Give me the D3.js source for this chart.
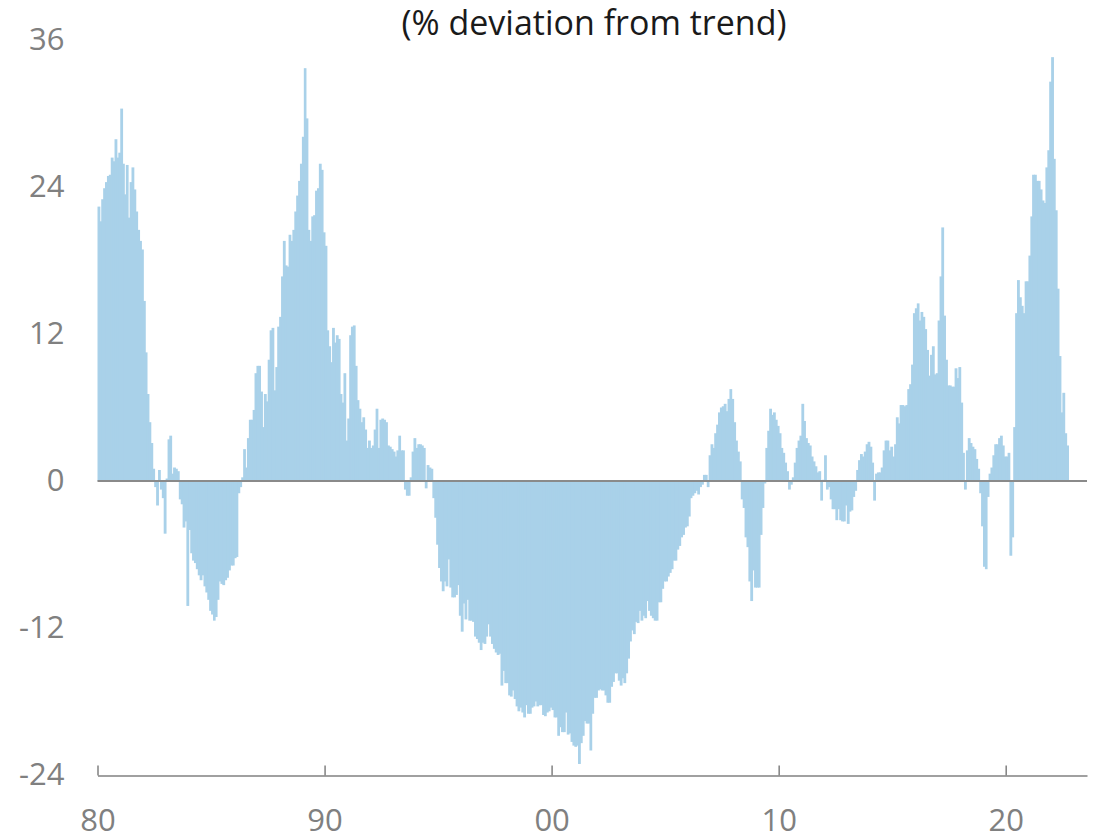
<!DOCTYPE html>
<meta charset="utf-8">
<style>
  body { margin: 0; background: #fff; }
  svg { display: block; font-family: "Open Sans", sans-serif; }
  .tick text { fill: #808080; font-size: 31px; font-family: "Open Sans", sans-serif; }
  .title { fill: #1a1a1a; font-size: 34px; }
</style>
<body>
<div id="chart"></div>
<script src="https://cdn.jsdelivr.net/npm/d3@7"></script>
<script>
  // monthly values, Jan 1980 .. Sep 2022 (% deviation from trend)
  const startYear = 1980;
  const values = [
    22.4, 21.2, 23.0, 23.9, 24.4, 24.9, 25.0, 26.4, 26.1, 27.9, 26.4, 26.8,       // 1980
    30.4, 25.9, 23.4, 25.8, 21.5, 24.4, 25.6, 23.8, 22.0, 20.5, 19.6, 18.9,       // 1981
    14.7, 10.5, 7.1, 4.8, 3.1, 1.0, -0.5, -2.0, 0.9, -0.7, -1.4, -4.3,            // 1982
    0.2, 3.4, 3.7, 0.6, 1.1, 1.0, 0.8, -1.5, -1.9, -3.8, -3.3, -10.2,             // 1983
    -4.0, -5.9, -6.5, -6.7, -7.2, -7.7, -8.1, -7.7, -8.6, -9.1, -9.7, -10.6,      // 1984
    -10.9, -11.4, -11.1, -9.7, -8.2, -8.4, -8.5, -8.1, -7.9, -7.3, -6.9, -6.9,    // 1985
    -6.3, -6.2, -1.0, -0.5, 0.3, 2.6, 1.1, 3.5, 5.0, 5.0, 5.8, 8.8,               // 1986
    9.4, 9.4, 7.3, 4.4, 7.1, 6.5, 9.9, 12.3, 12.5, 7.4, 9.3, 12.6,                // 1987
    13.4, 16.7, 19.6, 17.6, 17.5, 20.1, 19.6, 20.5, 22.0, 23.3, 24.5, 25.9,       // 1988
    28.1, 33.7, 29.6, 20.5, 19.6, 21.6, 21.7, 23.7, 23.9, 25.9, 25.4, 20.3,       // 1989
    19.2, 12.3, 11.0, 9.7, 12.5, 11.3, 11.9, 11.6, 7.1, 6.4, 8.8, 3.3,            // 1990
    5.1, 11.9, 12.6, 12.7, 9.4, 6.6, 5.9, 4.8, 5.2, 4.2, 2.7, 3.3,                // 1991
    2.7, 2.9, 4.2, 5.9, 2.7, 5.0, 5.1, 5.0, 4.8, 2.9, 2.8, 2.6,                   // 1992
    2.4, 2.0, 2.5, 3.7, 2.5, 2.5, -0.7, -1.2, -1.2, 0.3, 2.4, 3.5,                // 1993
    2.7, 3.0, 3.0, 2.9, 2.7, -0.6, 1.3, 1.1, 1.0, -1.4, -3.0, -5.2,               // 1994
    -7.1, -8.2, -9.0, -8.2, -8.6, -6.4, -8.7, -9.5, -9.5, -9.3, -8.5, -11.0,      // 1995
    -12.3, -10.0, -11.3, -9.7, -11.4, -11.4, -11.5, -12.7, -12.9, -13.2, -13.8, -13.2, // 1996
    -13.3, -12.7, -11.7, -12.7, -13.3, -13.7, -14.0, -14.2, -14.1, -16.7, -15.5, -16.5, // 1997
    -16.5, -17.5, -17.6, -17.1, -17.8, -18.4, -18.8, -18.5, -18.9, -19.3, -18.3, -19.0, // 1998
    -19.0, -18.5, -18.4, -18.0, -18.4, -18.3, -18.3, -19.1, -19.2, -18.9, -18.8, -18.5, // 1999
    -18.7, -19.3, -19.3, -20.8, -20.1, -20.5, -20.5, -18.9, -20.7, -20.6, -21.3, -21.6, // 2000
    -21.7, -21.6, -23.1, -21.4, -20.8, -19.6, -19.8, -19.8, -22.0, -19.0, -17.7, -17.7, // 2001
    -17.1, -17.0, -17.1, -17.1, -17.5, -18.1, -18.1, -16.8, -16.4, -15.7, -15.7, -16.3, // 2002
    -16.7, -16.1, -16.5, -15.7, -14.5, -13.1, -12.2, -12.5, -11.5, -11.6, -10.6, -11.4, // 2003
    -11.0, -11.2, -9.8, -10.6, -11.0, -11.2, -11.4, -11.4, -9.9, -9.9, -8.8, -8.2,      // 2004
    -8.2, -7.8, -7.5, -7.2, -6.5, -6.5, -5.6, -5.3, -4.6, -4.4, -3.8, -3.7,       // 2005
    -2.9, -1.4, -1.2, -1.0, -0.8, -1.1, -0.5, -0.3, 0.5, 0.5, -0.5, 2.1,          // 2006
    3.0, 2.7, 3.9, 4.6, 5.6, 6.0, 6.1, 6.3, 5.7, 6.7, 7.5, 6.7,                   // 2007
    4.8, 3.3, 2.4, 1.6, -1.5, -2.2, -4.6, -5.4, -8.2, -9.8, -7.3, -8.7,           // 2008
    -8.7, -8.7, -4.4, -2.2, -0.2, 2.7, 4.1, 5.9, 5.4, 5.6, 5.0, 4.5,              // 2009
    3.9, 2.7, 2.3, 1.5, 0.8, -0.7, -0.3, 0.3, 1.5, 2.7, 3.3, 3.7,                 // 2010
    6.3, 4.9, 3.5, 3.1, 2.9, 2.0, 1.6, 1.2, 0.7, 0.8, -1.6, 0.1,                  // 2011
    2.1, -0.7, -0.5, -1.5, -2.3, -2.3, -3.2, -2.3, -3.2, -3.3, -3.3, -2.0,        // 2012
    -3.5, -2.5, -2.4, -1.3, -0.8, 0.9, 1.7, 2.2, 2.0, 2.4, 3.0, 3.2,              // 2013
    2.8, 1.5, -1.6, 0.6, 0.7, 0.7, 1.1, 2.5, 3.3, 3.3, 2.5, 2.8,                  // 2014
    2.0, 3.0, 5.2, 4.7, 6.2, 6.2, 6.1, 6.2, 7.5, 7.9, 9.5, 13.7,                  // 2015
    14.1, 14.5, 13.1, 13.8, 13.4, 12.4, 10.7, 8.6, 10.3, 11.0, 8.7, 8.8,          // 2016
    13.1, 16.7, 20.7, 13.5, 9.9, 7.8, 7.8, 7.7, 7.7, 9.2, 8.4, 9.3,               // 2017
    6.4, 2.3, -0.7, 2.5, 3.5, 3.1, 2.8, 2.6, 1.8, 1.0, -1.0, -3.7,                // 2018
    -7.0, -7.2, -1.3, 0.6, 1.1, 2.1, 3.0, 3.0, 3.5, 3.7, 2.9, 2.0,                // 2019
    2.0, 2.3, -6.1, -4.6, 4.4, 13.7, 16.4, 15.0, 14.3, 13.7, 16.3, 16.3,          // 2020
    18.4, 21.6, 25.0, 25.0, 24.5, 24.5, 23.8, 22.9, 22.7, 25.6, 27.0, 32.6,       // 2021
    34.6, 26.3, 22.1, 15.7, 10.2, 5.6, 7.2, 3.9, 2.9                              // 2022
  ];
  const yTicks = [-24, -12, 0, 12, 24, 36];
  const xTickYears = [1980, 1990, 2000, 2010, 2020];
  const title = "(% deviation from trend)";

  // 1. Dimensions
  const width = 1102, height = 839;
  const plotLeft = 97.5, plotRight = 1087, plotTop = 40, plotBottom = 775;

  const data = values.map((v, i) => ({ date: new Date(startYear, i, 1), value: v }));

  // 2. Scales
  const x = d3.scaleTime()
    .domain([new Date(1980, 0, 1), new Date(2023, 7, 1)])
    .range([plotLeft, plotRight]);
  const y = d3.scaleLinear()
    .domain([-24, 36])
    .range([plotBottom, plotTop]);

  const svg = d3.select("#chart").append("svg")
    .attr("width", width)
    .attr("height", height);

  // 3. Bars (one per month, slightly overlapped so no hairline gaps show)
  svg.append("g")
    .attr("fill", "#a9d1e9")
    .selectAll("rect")
    .data(data)
    .join("rect")
      .attr("x", d => x(d.date))
      .attr("width", d => x(d3.timeMonth.offset(d.date, 1)) - x(d.date) + 0.9)
      .attr("y", d => y(Math.max(0, d.value)))
      .attr("height", d => Math.abs(y(d.value) - y(0)));

  // 4. Zero line
  svg.append("line")
    .attr("x1", plotLeft).attr("x2", plotRight)
    .attr("y1", y(0)).attr("y2", y(0))
    .attr("stroke", "#8a8a8a")
    .attr("stroke-width", 2);

  // 5. Y axis (labels only, plain hyphen for negatives)
  svg.append("g")
    .attr("transform", `translate(${plotLeft},0)`)
    .call(d3.axisLeft(y).tickValues(yTicks).tickFormat(d => String(d)).tickSize(0).tickPadding(33))
    .call(g => g.select(".domain").remove());

  // 6. X axis at the bottom, ticks pointing up
  const xAxis = svg.append("g")
    .attr("transform", `translate(0,${plotBottom + 0.5})`)
    .call(d3.axisBottom(x)
      .tickValues(xTickYears.map(yr => new Date(yr, 0, 1)))
      .tickFormat(d3.timeFormat("%y"))
      .tickSizeInner(-10)
      .tickSizeOuter(0)
      .tickPadding(33));
  xAxis.select(".domain").attr("stroke", "#808080").attr("stroke-width", 1.5);
  xAxis.selectAll(".tick line").attr("stroke", "#808080").attr("stroke-width", 1.5);
  xAxis.selectAll(".tick text").attr("y", 33);

  // 7. Title
  svg.append("text")
    .attr("class", "title")
    .attr("x", 594)
    .attr("y", 35)
    .attr("text-anchor", "middle")
    .text(title);
</script>
</body>
